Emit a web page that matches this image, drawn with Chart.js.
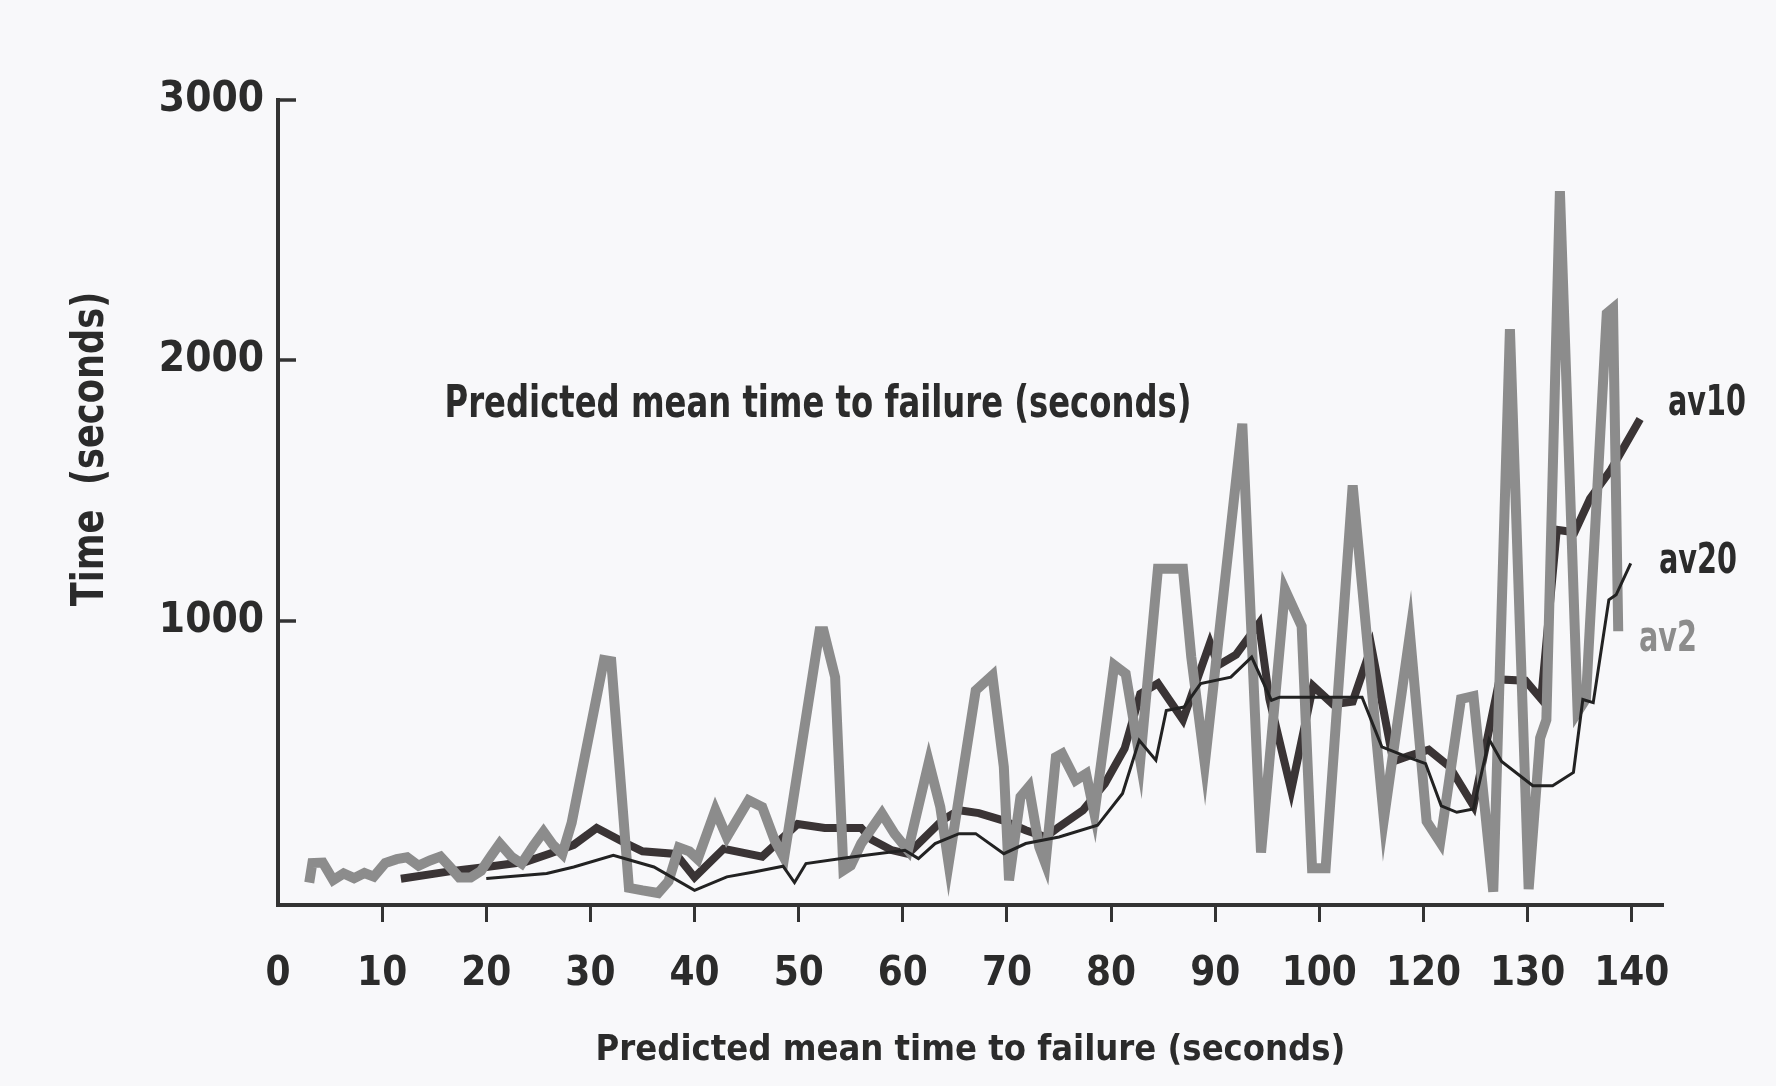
<!DOCTYPE html>
<html>
<head>
<meta charset="utf-8">
<script src="https://cdn.jsdelivr.net/npm/chart.js@4/dist/chart.umd.min.js"></script>
<style>
  html, body { margin: 0; padding: 0; background: #f8f8fa; }
  #wrap { position: relative; width: 1776px; height: 1086px; }
</style>
</head>
<body>
<div id="wrap"><canvas id="c" width="1776" height="1086"></canvas></div>
<script>
// ---------- DATA ----------
const xTickValues = [0, 10, 20, 30, 40, 50, 60, 70, 80, 90, 100, 110, 120, 130];
const xTickLabels = ['0', '10', '20', '30', '40', '50', '60', '70', '80', '90', '100', '120', '130', '140'];
const yTickValues = [1000, 2000, 3000];

const xTitle = 'Predicted mean time to failure (seconds)';
const yTitle = 'Time  (seconds)';
const plotNote = 'Predicted mean time to failure (seconds)';
const seriesNames = ['av10', 'av20', 'av2'];

// av2 (moving average of 2)
const av2X = [3.0, 3.3, 4.3, 5.3, 6.3, 7.3, 8.3, 9.2, 10.3, 11.4, 12.4, 13.5, 14.6, 15.6, 16.4, 17.4, 18.5, 19.5, 20.5, 21.3,
  22.4, 23.4, 24.5, 25.5, 26.4, 27.3, 28.2, 31.3, 32.0, 33.7, 35.0, 36.5, 37.5, 38.5, 39.5, 40.3, 42.0, 43.1, 45.2, 46.5,
  47.7, 48.6, 52.0, 52.4, 53.5, 54.3, 55.0, 56.0, 58.0, 59.2, 60.5, 62.5, 63.6, 64.4, 67.0, 68.6, 69.7, 70.2, 71.3, 72.1,
  73.1, 73.7, 74.7, 75.3, 76.6, 77.6, 78.4, 80.3, 81.4, 82.8, 84.5, 86.9, 87.7, 89.0, 92.6, 94.4, 96.7, 98.3, 99.3, 100.6,
  103.2, 106.2, 108.7, 110.3, 111.6, 113.6, 114.8, 116.7, 118.3, 120.1, 121.2, 121.8, 123.1, 124.8, 125.6, 127.6, 128.2, 128.7];
const av2Y = [-5, 70, 72, 5, 30, 12, 32, 18, 70, 85, 92, 60, 80, 95, 60, 15, 15, 40, 100, 145,
  95, 68, 135, 190, 140, 105, 225, 850, 845, -25, -35, -45, 0, 130, 115, 85, 273, 170, 311, 285,
  157, 90, 960, 960, 784, 42, 60, 145, 260, 183, 119, 458, 285, 68, 733, 791, 439, 4, 324, 362,
  132, 68, 477, 490, 388, 413, 260, 830, 797, 464, 1200, 1200, 861, 452, 1757, 110, 1120, 980, 50, 50,
  1520, 240, 950, 230, 150, 700, 711, -40, 2120, -30, 550, 620, 2650, 650, 700, 2180, 2200, 960];

// av10 (moving average of 10)
const av10X = [11.8, 16.8, 20.0, 23.8, 26.0, 28.4, 30.6, 33.2, 35.0, 38.2, 40.0, 42.8, 46.5, 49.9, 52.5, 56.0, 57.0, 58.9, 60.5, 63.8,
  65.4, 67.3, 69.6, 71.8, 73.7, 75.0, 77.3, 79.4, 81.3, 82.8, 84.5, 86.9, 89.5, 90.3, 92.0, 94.2, 95.2, 97.3, 99.4, 101.3,
  103.2, 105.0, 107.1, 108.5, 110.5, 112.5, 114.8, 117.3, 119.8, 121.3, 122.8, 124.5, 126.0, 128.0, 130.8];
const av10Y = [10, 40, 55, 75, 105, 140, 205, 150, 115, 105, 15, 125, 95, 220, 205, 205, 160, 120, 105, 235,
  273, 262, 234, 196, 170, 209, 273, 375, 510, 720, 760, 620, 915, 830, 870, 990, 700, 350, 750, 680,
  690, 900, 460, 480, 505, 440, 290, 775, 770, 700, 1350, 1340, 1470, 1580, 1775];

// av20 (moving average of 20)
const av20X = [20.0, 25.8, 28.4, 32.2, 36.1, 40.0, 43.1, 45.7, 48.5, 49.6, 50.7, 55.1, 60.2, 61.5, 63.1, 65.4, 67.0, 69.7, 71.8, 75.0,
  78.7, 81.1, 82.7, 84.3, 85.3, 87.0, 88.6, 91.5, 93.5, 95.4, 96.2, 104.1, 106.0, 108.3, 110.2, 111.7, 113.2, 114.8, 116.3, 117.5,
  120.5, 122.4, 124.4, 125.3, 126.3, 127.8, 128.5, 129.9];
const av20Y = [11, 30, 55, 100, 55, -35, 17, 36, 58, -5, 68, 93, 119, 87, 145, 183, 183, 106, 145, 170,
  215, 337, 541, 465, 656, 669, 759, 784, 861, 695, 707, 707, 516, 480, 452, 290, 265, 278, 545, 460,
  367, 367, 418, 698, 686, 1081, 1100, 1221];

// ---------- CHART ----------
const NARROW = '"Liberation Sans Narrow", "DejaVu Sans Condensed", "Arial Narrow", sans-serif';
const ROUND = '"DejaVu Sans Condensed", "DejaVu Sans", sans-serif';
const INK = '#2b2b2b';
const GRAY = '#8c8c8c';

const pts = (xs, ys) => xs.map((x, i) => ({ x: x, y: ys[i] }));

const bgPlugin = {
  id: 'bg',
  beforeDraw(chart) {
    const c = chart.ctx;
    c.save();
    c.fillStyle = '#f8f8fa';
    c.fillRect(0, 0, chart.width, chart.height);
    c.restore();
  }
};

// draw horizontally condensed text
function condText(c, text, x, y, sx, align) {
  c.save();
  c.translate(x, y);
  c.scale(sx, 1);
  c.textAlign = align;
  c.fillText(text, 0, 0);
  c.restore();
}

const decoPlugin = {
  id: 'deco',
  afterDraw(chart) {
    const c = chart.ctx;
    const ys = chart.scales.y;
    const left = chart.chartArea.left;
    c.save();
    // inward y tick marks
    c.strokeStyle = '#333';
    c.lineWidth = 3.5;
    yTickValues.forEach(v => {
      const py = Math.round(ys.getPixelForValue(v));
      c.beginPath();
      c.moveTo(left, py);
      c.lineTo(left + 18, py);
      c.stroke();
    });
    c.fillStyle = INK;
    c.textBaseline = 'middle';
    // y axis title (rotated)
    c.font = 'bold 44px ' + NARROW;
    c.save();
    c.translate(92, 449);
    c.rotate(-Math.PI / 2);
    condText(c, yTitle, 0, 0, 0.89, 'center');
    c.restore();
    // in-plot note
    c.font = 'bold 44px ' + NARROW;
    condText(c, plotNote, 818, 406, 0.815, 'center');
    // series labels
    c.font = 'bold 42px ' + NARROW;
    c.fillStyle = INK;
    condText(c, seriesNames[0], 1668, 404, 0.76, 'left');
    condText(c, seriesNames[1], 1659, 562, 0.76, 'left');
    c.fillStyle = GRAY;
    condText(c, seriesNames[2], 1639, 640, 0.76, 'left');
    c.restore();
  }
};

new Chart(document.getElementById('c'), {
  type: 'line',
  data: {
    datasets: [
      { label: 'av20', data: pts(av20X, av20Y), borderColor: '#222222', borderWidth: 3, order: 0 },
      { label: 'av2', data: pts(av2X, av2Y), borderColor: GRAY, borderWidth: 10, order: 1 },
      { label: 'av10', data: pts(av10X, av10Y), borderColor: '#3a3435', borderWidth: 8, order: 2 }
    ]
  },
  options: {
    responsive: false,
    animation: false,
    events: [],
    elements: {
      point: { radius: 0 },
      line: { tension: 0, fill: false, borderJoinStyle: 'miter', borderCapStyle: 'butt' }
    },
    layout: { padding: { left: 0, top: 100, right: 113, bottom: 0 } },
    plugins: { legend: { display: false }, tooltip: { enabled: false } },
    scales: {
      x: {
        type: 'linear',
        position: 'bottom',
        min: 0,
        max: 133,
        afterBuildTicks: s => { s.ticks = xTickValues.map(v => ({ value: v })); },
        afterFit: s => { s.height = 181; },
        grid: {
          display: true, drawOnChartArea: false, drawTicks: true, tickLength: 17, tickWidth: 3,
          tickColor: c => (c.tick && c.tick.value === 0) ? 'rgba(0,0,0,0)' : '#333'
        },
        border: { display: true, width: 4, color: '#333' },
        ticks: {
          autoSkip: false, maxRotation: 0, padding: 29, color: INK,
          font: { family: NARROW, size: 40, weight: 'bold' },
          callback: (v, i) => xTickLabels[i]
        },
        title: {
          display: true, text: xTitle, color: INK,
          font: { family: NARROW, size: 36, weight: 'bold' },
          padding: { top: 0, bottom: 14 }
        }
      },
      y: {
        type: 'linear',
        min: -91,
        max: 3000,
        afterBuildTicks: s => { s.ticks = yTickValues.map(v => ({ value: v })); },
        afterFit: s => { s.width = 278; },
        grid: { display: false, drawTicks: false },
        border: { display: true, width: 4, color: '#333' },
        ticks: {
          padding: 14, color: INK,
          font: { family: ROUND, size: 42, weight: 'bold' },
          callback: v => String(v)
        }
      }
    }
  },
  plugins: [bgPlugin, decoPlugin]
});
</script>
</body>
</html>
